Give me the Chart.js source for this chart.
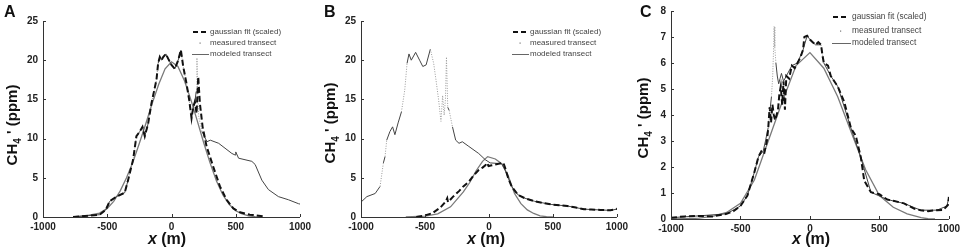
<!DOCTYPE html>
<html>
<head>
<meta charset="utf-8">
<script src="https://cdn.jsdelivr.net/npm/chart.js@4/dist/chart.umd.min.js"></script>
<style>
  body { margin: 0; background: #fff; }
  #wrap { position: relative; width: 964px; height: 248px; overflow: hidden; }
  canvas { position: absolute; top: 0; }
</style>
</head>
<body>
<div id="wrap">
  <canvas id="panelA" style="left:0px" width="320" height="248"></canvas>
  <canvas id="panelB" style="left:320px" width="312" height="248"></canvas>
  <canvas id="panelC" style="left:632px" width="332" height="248"></canvas>
</div>
<script>
// ---- panel A ----
const aGaussX = [-766,-558,-512,-481,-429,-364,-338,-299,-273,-247,-226,-208,-182,-156,-117,-104,-91,-78,-65,-44,-26,0,26,52,73,91,117,138,156,169,182,195,208,221,242,273,325,377,429,481,532,610,714];
const aGaussY = [0,0.3,0.9,2.0,2.6,3.1,4.7,7.3,10.3,10.9,11.5,10.3,11.9,14.5,17.5,19.6,20.4,20,20.4,20.8,20.2,19.4,18.9,20,21.3,19.2,17,14.9,12.6,14,14.7,13.2,17.9,14.5,11.5,9,6.4,3.9,2.2,1.1,0.6,0.3,0.1];
const aMeasX = [-766,-558,-512,-481,-429,-364,-338,-299,-273,-247,-226,-208,-182,-156,-117,-104,-91,-78,-65,-44,-26,0,26,52,73,91,117,138,156,169,182,192,198,204,212,237,276,302,367,470,496,500,522,625,651,703,754,832,910,988,1000];
const aMeasY = [0,0.3,0.9,2.0,2.6,3.1,4.7,7.3,10.3,10.9,11.5,10.3,11.9,14.5,17.5,19.6,20.4,20,20.4,20.8,20.2,19.4,18.9,20,21.3,19.2,17,14.9,12.6,14,14.7,16,20.3,15.5,12.8,10.9,9.6,9.8,9.4,8.1,7.9,8.3,7.5,7.1,6.7,4.7,3.5,2.6,2.2,1.7,1.65];
const aModelX = [-750,-650,-560,-500,-450,-400,-350,-300,-250,-200,-150,-100,-50,0,50,100,150,200,250,300,350,400,450,500,550,600,650,700];
const aModelY = [0.05,0.2,0.5,1.1,2.0,3.3,5.0,7.0,9.4,11.9,14.5,16.9,18.9,19.8,19.2,17.4,15.0,12.3,9.5,6.9,4.6,2.8,1.6,0.8,0.4,0.15,0.05,0];

// ---- panel B ----
const bGaussX = [-568,-500,-440,-380,-337,-326,-320,-280,-234,-200,-157,-120,-80,-50,-28,-15,-3,23,50,75,113,126,150,177,229,280,357,420,486,550,614,680,743,800,871,949,1000];
const bGaussY = [0,0.2,0.5,1.2,2.0,2.4,1.9,2.6,3.3,3.9,4.5,5.3,6.0,6.3,6.6,6.9,6.5,6.6,6.7,6.8,6.9,6.3,5.0,3.9,2.8,2.4,2.0,1.8,1.6,1.5,1.4,1.2,1.0,0.95,0.9,0.85,1.05];
const bMeasX = [-1000,-954,-889,-851,-825,-812,-799,-774,-753,-735,-710,-684,-658,-640,-625,-607,-573,-542,-517,-491,-458,-432,-414,-393,-375,-362,-350,-340,-332,-322,-311,-285,-260,-234,-208,-157,-80,-28,10,100,126,177,229,280,357,486,614,743,871,949,1000];
const bMeasY = [1.9,2.6,3.0,3.9,6.9,7.7,9.8,10.9,11.5,10.5,12,13.4,16.2,19.6,20.8,20,21,20,19.2,19.4,21.4,19.6,17.5,14.9,12.2,15.5,13,15,20.4,14,13.6,11.5,9.8,9.4,9.6,9.0,8.1,7.3,6.9,6.8,6,3.9,2.8,2.4,2.0,1.6,1.4,1.0,0.9,0.85,1.0];
const bModelX = [-650,-600,-500,-400,-300,-200,-150,-100,-50,-10,50,100,150,200,250,300,350,400,450,500];
const bModelY = [0,0.03,0.12,0.4,1.3,3.2,4.4,5.9,7.1,7.7,7.4,6.8,5.3,3.0,1.7,0.9,0.45,0.15,0.04,0];

// ---- panel C ----
const cGaussX = [-1000,-900,-800,-700,-600,-550,-500,-450,-400,-370,-350,-330,-310,-300,-290,-280,-270,-260,-250,-230,-220,-210,-200,-190,-180,-170,-150,-130,-110,-90,-70,-50,-40,-20,0,20,40,60,80,90,100,130,150,200,247,295,330,367,391,439,500,556,600,677,749,797,850,914,960,986,995,1000];
const cGaussY = [0.05,0.1,0.12,0.1,0.2,0.3,0.5,0.9,1.8,2.4,2.6,2.5,3.0,3.5,4.3,3.7,4.4,4.0,3.8,4.2,4.8,5.1,4.4,5.3,4.2,5.5,5.4,5.9,5.8,6.0,6.2,6.5,7.0,7.05,6.9,6.8,6.7,6.8,6.7,6.3,6.0,5.9,5.5,5.1,4.5,3.5,3.2,2.35,1.47,1.03,0.95,0.75,0.7,0.6,0.4,0.34,0.3,0.34,0.35,0.5,0.55,0.85];
const cMeasX = [-1000,-800,-600,-500,-450,-400,-370,-337,-320,-301,-285,-277,-268,-262,-258,-253,-245,-235,-225,-215,-205,-190,-170,-130,-90,-50,-20,0,40,80,100,150,200,295,367,439,556,677,797,914,986,1000];
const cMeasY = [0.05,0.12,0.2,0.5,0.9,1.8,2.4,2.6,3.0,3.5,4.3,4.7,5.5,6.5,7.4,6.6,6.0,5.5,5.2,5.4,5.6,5.3,5.5,5.9,6.0,6.5,7.05,6.9,6.7,6.7,6.0,5.5,5.1,3.5,2.35,1.03,0.75,0.6,0.34,0.34,0.5,0.85];
const cModelX = [-1000,-900,-800,-700,-600,-500,-400,-300,-200,-100,0,100,200,300,400,500,600,700,800,850,900];
const cModelY = [0,0.01,0.03,0.1,0.25,0.6,1.5,3.0,4.5,5.9,6.4,5.8,4.7,3.3,1.9,0.9,0.45,0.2,0.05,0.01,0];

const legendLabels = ['gaussian fit (scaled)', 'measured transect', 'modeled transect'];
const FONT = '"Liberation Sans", Arial, sans-serif';

function toPoints(xs, ys) {
    return xs.map((x, i) => ({ x: x, y: ys[i] }));
}

// steep parts of the measured transect show up as loose dots
function isSteep(ctx) {
    const dx = Math.abs(ctx.p1.x - ctx.p0.x);
    const dy = Math.abs(ctx.p1.y - ctx.p0.y);
    return dy > 14 && dy > 4 * dx;
}

const panelDecor = {
    id: 'panelDecor',
    afterDraw(chart, args, o) {
        const ctx = chart.ctx;
        const a = chart.chartArea;
        const xs = chart.scales.x, ys = chart.scales.y;
        ctx.save();

        // axes
        ctx.strokeStyle = '#333';
        ctx.lineWidth = 1;
        ctx.beginPath();
        ctx.moveTo(Math.round(a.left) + 0.5, a.top);
        ctx.lineTo(Math.round(a.left) + 0.5, Math.round(a.bottom) + 0.5);
        ctx.lineTo(a.right, Math.round(a.bottom) + 0.5);
        ctx.stroke();

        // inward tick marks
        ctx.beginPath();
        xs.ticks.forEach(t => {
            const px = Math.round(xs.getPixelForValue(t.value)) + 0.5;
            ctx.moveTo(px, a.bottom);
            ctx.lineTo(px, a.bottom - 3);
        });
        ys.ticks.forEach(t => {
            const py = Math.round(ys.getPixelForValue(t.value)) + 0.5;
            ctx.moveTo(a.left, py);
            ctx.lineTo(a.left + 3, py);
        });
        ctx.stroke();

        ctx.fillStyle = '#111';
        ctx.textBaseline = 'alphabetic';

        // panel letter
        ctx.font = 'bold 16px ' + FONT;
        ctx.textAlign = 'left';
        ctx.fillText(o.letter, o.letterX, 17);

        // y title: CH4' (ppm) with subscript
        ctx.save();
        ctx.translate(o.yTitleX, o.yTitleY);
        ctx.rotate(-Math.PI / 2);
        const big = 'bold 15px ' + FONT, small = 'bold 10px ' + FONT;
        ctx.font = big;
        const w1 = ctx.measureText('CH').width;
        const w3 = ctx.measureText(" ' (ppm)").width;
        ctx.font = small;
        const w2 = ctx.measureText('4').width;
        let px = -(w1 + w2 + w3) / 2;
        ctx.font = big;
        ctx.fillText('CH', px, 0);
        px += w1;
        ctx.font = small;
        ctx.fillText('4', px, 4);
        px += w2;
        ctx.font = big;
        ctx.fillText(" ' (ppm)", px, 0);
        ctx.restore();

        // x title: italic x, then (m)
        ctx.font = 'bold italic 16px ' + FONT;
        const wx = ctx.measureText('x').width;
        ctx.font = 'bold 16px ' + FONT;
        const wr = ctx.measureText(' (m)').width;
        const tx = o.xTitleX - (wx + wr) / 2;
        ctx.font = 'bold italic 16px ' + FONT;
        ctx.fillText('x', tx, 244);
        ctx.font = 'bold 16px ' + FONT;
        ctx.fillText(' (m)', tx + wx, 244);

        // legend
        const L = o.legend;
        ctx.font = L.size + 'px ' + FONT;
        ctx.fillStyle = '#444';
        ctx.textBaseline = 'middle';
        legendLabels.forEach((label, i) => {
            ctx.fillText(label, L.textX, L.rows[i]);
        });
        // dashed sample
        ctx.strokeStyle = '#111';
        ctx.lineWidth = 2;
        ctx.setLineDash([5, 3]);
        ctx.beginPath();
        ctx.moveTo(L.lineX0, L.rows[0]);
        ctx.lineTo(L.lineX1, L.rows[0]);
        ctx.stroke();
        ctx.setLineDash([]);
        // dot sample
        ctx.fillStyle = '#777';
        ctx.fillRect((L.lineX0 + L.lineX1) / 2 - 0.5, L.rows[1] - 0.5, 1.2, 1.2);
        // solid sample
        ctx.strokeStyle = '#666';
        ctx.lineWidth = 1;
        ctx.beginPath();
        ctx.moveTo(L.lineX0 - 1, L.rows[2] + 0.5);
        ctx.lineTo(L.textX - 1, L.rows[2] + 0.5);
        ctx.stroke();

        ctx.restore();
    }
};

function crearPanel(id, cfg) {
    const datasets = [
        {
            label: legendLabels[0],
            data: toPoints(cfg.gaussX, cfg.gaussY),
            borderColor: '#111',
            borderWidth: 2,
            borderDash: [6, 3],
            pointRadius: 0,
            tension: 0
        },
        {
            label: legendLabels[1],
            data: toPoints(cfg.measX, cfg.measY),
            borderColor: '#444',
            borderWidth: 1,
            pointRadius: 0,
            tension: 0,
            segment: {
                borderColor: c => isSteep(c) ? '#9a9a9a' : undefined,
                borderDash: c => isSteep(c) ? [1, 1.5] : undefined
            }
        },
        {
            label: legendLabels[2],
            data: toPoints(cfg.modelX, cfg.modelY),
            borderColor: '#7a7a7a',
            borderWidth: 1.3,
            pointRadius: 0,
            tension: 0
        }
    ];
    const tickFont = { family: FONT, size: 10, weight: 'bold' };
    const noGrid = { display: false, drawTicks: false, tickLength: 0 };
    return new Chart(document.getElementById(id), {
        type: 'line',
        data: { datasets: datasets },
        options: {
            responsive: false,
            animation: false,
            events: [],
            layout: { padding: { top: cfg.top, right: cfg.right, left: 0, bottom: 0 } },
            plugins: {
                legend: { display: false },
                tooltip: { enabled: false },
                panelDecor: cfg.decor
            },
            scales: {
                x: {
                    type: 'linear',
                    min: -1000,
                    max: 1000,
                    grid: noGrid,
                    border: { display: false },
                    ticks: { stepSize: 500, color: '#222', font: tickFont, padding: 4, maxRotation: 0, callback: v => String(v) },
                    afterFit: s => { s.height = cfg.bottomH; }
                },
                y: {
                    min: 0,
                    max: cfg.yMax,
                    grid: noGrid,
                    border: { display: false },
                    ticks: { stepSize: cfg.yStep, color: '#222', font: tickFont, padding: 5, callback: v => String(v) },
                    afterFit: s => { s.width = cfg.leftW; }
                }
            }
        },
        plugins: [panelDecor]
    });
}

crearPanel('panelA', {
    gaussX: aGaussX, gaussY: aGaussY, measX: aMeasX, measY: aMeasY, modelX: aModelX, modelY: aModelY,
    yMax: 25, yStep: 5, top: 21, right: 20, leftW: 43, bottomH: 31,
    decor: {
        letter: 'A', letterX: 4, yTitleX: 17, yTitleY: 125, xTitleX: 167,
        legend: { size: 8, textX: 210, lineX0: 193, lineX1: 207, rows: [32, 43, 54] }
    }
});

crearPanel('panelB', {
    gaussX: bGaussX, gaussY: bGaussY, measX: bMeasX, measY: bMeasY, modelX: bModelX, modelY: bModelY,
    yMax: 25, yStep: 5, top: 21, right: 12, leftW: 41, bottomH: 31,
    decor: {
        letter: 'B', letterX: 4, yTitleX: 15, yTitleY: 123, xTitleX: 166,
        legend: { size: 8, textX: 210, lineX0: 193, lineX1: 207, rows: [32, 43, 54] }
    }
});

crearPanel('panelC', {
    gaussX: cGaussX, gaussY: cGaussY, measX: cMeasX, measY: cMeasY, modelX: cModelX, modelY: cModelY,
    yMax: 8, yStep: 1, top: 7, right: 14, leftW: 39, bottomH: 29,
    decor: {
        letter: 'C', letterX: 8, yTitleX: 16, yTitleY: 118, xTitleX: 179,
        legend: { size: 8.4, textX: 220, lineX0: 201, lineX1: 216, rows: [17, 31, 43] }
    }
});
</script>
</body>
</html>
